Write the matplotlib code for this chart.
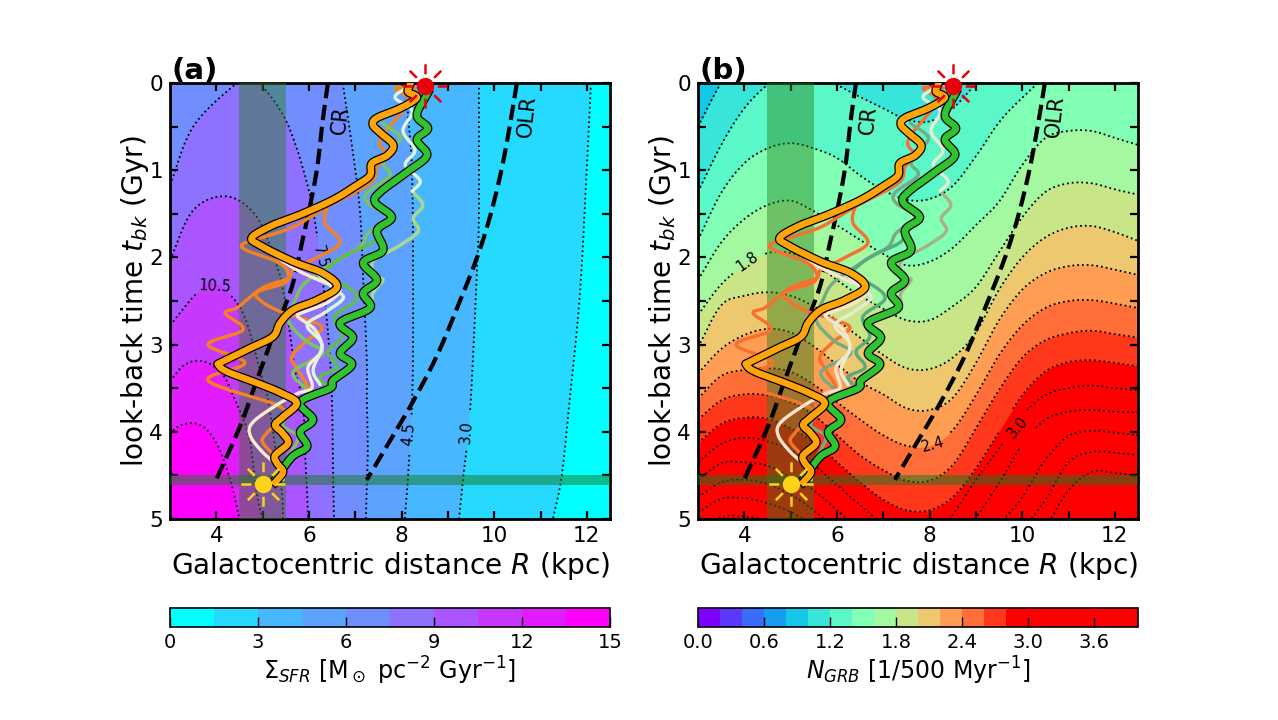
import numpy as np
import matplotlib
matplotlib.use('Agg')
import matplotlib.pyplot as plt
from matplotlib.colors import ListedColormap, BoundaryNorm
from matplotlib.cm import ScalarMappable
from matplotlib.path import Path

# panel (a): star formation contours (R in kpc, t in Gyr)
sfr15_r = [12.09, 12.0, 11.85, 11.64, 11.46, 11.27]
sfr15_t = [0.0, 0.97, 2.43, 3.58, 4.5, 5.0]
sfr30_r = [9.67, 9.67, 9.63, 9.48, 9.33, 9.24]
sfr30_t = [0.0, 1.47, 2.12, 3.76, 4.53, 5.0]
sfr45_r = [8.08, 8.14, 8.23, 8.25, 8.23, 8.14, 8.07]
sfr45_t = [0.0, 0.37, 1.09, 2.61, 3.61, 4.5, 5.0]
sfr60_r = [6.73, 6.95, 7.10, 7.17, 7.25, 7.25, 7.27, 7.25, 7.23]
sfr60_t = [0.0, 0.8, 1.46, 2.22, 3.2, 3.6, 4.2, 4.6, 5.0]
sfr75_r = [3.0, 3.5, 4.4, 4.7, 5.0, 5.53, 5.96, 6.18, 6.35, 6.46, 6.5, 6.52, 6.54]
sfr75_t = [1.17, 0.5, 0.02, -0.04, 0.04, 0.46, 1.15, 1.76, 2.52, 3.2, 3.67, 4.4, 5.0]
sfr90_r = [3.0, 3.5, 4.23, 4.88, 5.31, 5.44, 5.59, 5.7, 5.87, 5.92, 5.96, 5.98]
sfr90_t = [2.03, 1.46, 1.3, 1.54, 2.1, 2.37, 2.87, 3.29, 3.67, 4.29, 4.7, 5.0]
sfr105_r = [3.0, 3.58, 3.97, 4.4, 4.66, 4.94, 5.12, 5.31, 5.42, 5.44]
sfr105_t = [2.78, 2.41, 2.3, 2.49, 2.75, 3.29, 3.64, 4.32, 4.7, 5.0]
sfr120_r = [3.0, 3.32, 3.71, 4.12, 4.4, 4.69, 4.8, 4.9, 5.0]
sfr120_t = [3.42, 3.23, 3.19, 3.33, 3.63, 4.02, 4.4, 4.78, 5.0]
sfr135_r = [3.0, 3.17, 3.48, 3.76, 4.04, 4.3, 4.47, 4.5]
sfr135_t = [4.03, 3.94, 3.9, 3.96, 4.17, 4.55, 4.93, 5.0]

# panel (b): N_GRB contours, t at each R of the common grid
grb_r = [3, 3.5, 4, 4.5, 5, 5.5, 6, 6.5, 7, 7.5, 8, 8.5, 9, 9.5, 10, 10.5, 11, 11.5, 12, 12.5]
grb_10 = [.50, .0, -.32, -.6, -.6, -.6, -.6, -.6, -.6, -.6, -.6, -.6, -.6, -.6, -.6, -.6, -.6, -.6, -.6, -.6]
grb_12 = [1.25, .71, .29, .02, -.15, -.13, .02, .16, .29, .42, .44, .29, .01, -.26, -.49, -.6, -.6, -.6, -.6, -.6]
grb_14 = [1.80, 1.26, .92, .75, .69, .75, .86, 1.06, 1.23, 1.34, 1.33, 1.18, .84, .45, .17, -.06, -.17, -.19, -.11, .03]
grb_16 = [2.26, 1.83, 1.56, 1.40, 1.35, 1.47, 1.63, 1.80, 1.96, 2.09, 2.05, 1.89, 1.63, 1.36, .94, .63, .55, .55, .63, .71]
grb_18 = [2.66, 2.31, 2.09, 1.95, 1.95, 2.06, 2.26, 2.44, 2.59, 2.72, 2.72, 2.56, 2.34, 1.94, 1.54, 1.25, 1.15, 1.15, 1.22, 1.28]
grb_20 = [3.03, 2.55, 2.44, 2.40, 2.44, 2.56, 2.72, 2.92, 3.12, 3.27, 3.28, 3.15, 2.86, 2.37, 2.0, 1.77, 1.66, 1.64, 1.71, 1.81]
grb_22 = [3.33, 3.05, 2.89, 2.82, 2.86, 3.02, 3.23, 3.43, 3.57, 3.73, 3.75, 3.61, 3.21, 2.72, 2.37, 2.18, 2.10, 2.09, 2.14, 2.20]
grb_24 = [3.62, 3.36, 3.29, 3.27, 3.31, 3.46, 3.66, 3.86, 4.04, 4.16, 4.16, 3.98, 3.58, 3.12, 2.78, 2.58, 2.50, 2.49, 2.53, 2.58]
grb_26 = [3.86, 3.64, 3.57, 3.58, 3.66, 3.81, 4.04, 4.27, 4.44, 4.56, 4.56, 4.38, 3.96, 3.52, 3.15, 2.95, 2.87, 2.84, 2.88, 2.92]
grb_28 = [4.13, 3.91, 3.84, 3.85, 3.96, 4.12, 4.35, 4.58, 4.78, 4.90, 4.90, 4.75, 4.42, 4.0, 3.58, 3.31, 3.20, 3.18, 3.21, 3.25]
grb_30 = [4.35, 4.14, 4.07, 4.11, 4.21, 4.38, 4.61, 4.84, 5.07, 5.24, 5.24, 4.95, 4.55, 4.19, 3.81, 3.58, 3.50, 3.47, 3.50, 3.52]
grb_32 = [4.55, 4.36, 4.35, 4.39, 4.52, 4.67, 4.90, 5.13, 5.36, 5.53, 5.58, 5.36, 4.99, 4.59, 4.15, 3.86, 3.77, 3.75, 3.77, 3.78]
grb_34 = [4.75, 4.58, 4.55, 4.60, 4.72, 4.90, 5.13, 5.36, 5.58, 5.76, 5.81, 5.64, 5.41, 5.07, 4.75, 4.32, 4.05, 3.99, 4.01, 4.04]
grb_36 = [4.93, 4.77, 4.76, 4.82, 4.92, 5.10, 5.33, 5.58, 5.81, 5.99, 6.04, 5.93, 5.70, 5.47, 5.13, 4.78, 4.35, 4.23, 4.24, 4.27]
grb_38 = [5.13, 4.98, 4.97, 5.03, 5.18, 5.4, 5.6, 5.8, 6.0, 6.2, 6.2, 6.1, 5.9, 5.7, 5.5, 5.1, 4.67, 4.46, 4.47, 4.51]

# resonance lines
cr_r = [6.41, 6.30, 6.18, 6.02, 5.85, 5.63, 5.22, 4.88, 4.51, 3.97]
cr_t = [0.0, 0.42, 0.96, 1.42, 1.83, 2.34, 2.91, 3.4, 3.94, 4.58]
olr_r = [10.49, 10.30, 10.13, 9.9, 9.63, 9.26, 8.77, 8.25, 7.82, 7.25]
olr_t = [0.0, 0.6, 1.06, 1.55, 2.0, 2.5, 3.12, 3.65, 4.04, 4.55]

# orbits
main_orange_r = [8.18, 8.14, 8.33, 7.97, 7.47, 7.38, 7.54, 7.82, 7.69, 7.36, 7.32, 7.04, 6.52, 5.81, 5.22, 4.77, 4.94,
                 5.66, 6.30, 6.61, 6.17, 5.66, 5.38, 5.22, 4.73, 4.12, 4.04, 4.23, 4.88, 5.38, 5.74, 5.44, 5.27, 5.42,
                 5.55, 5.27, 5.31, 5.44, 5.27]
main_orange_t = [.02, .10, .17, .29, .40, .48, .57, .71, .83, .92, 1.06, 1.17, 1.34, 1.51, 1.63, 1.77, 1.86,
                 2.05, 2.18, 2.34, 2.49, 2.60, 2.75, 2.91, 3.04, 3.20, 3.23, 3.31, 3.44, 3.55, 3.67, 3.83, 3.92, 4.01,
                 4.13, 4.27, 4.36, 4.46, 4.58]
main_green_r = [8.57, 8.33, 8.57, 8.33, 8.55, 8.12, 7.54, 7.43, 7.79, 7.47, 7.60, 7.17, 7.47, 7.17, 7.32, 6.67, 6.95,
                6.67, 6.93, 6.52, 6.46, 5.81, 6.09, 5.81, 5.96, 5.63, 5.27]
main_green_t = [.11, .37, .52, .65, .83, 1.02, 1.25, 1.37, 1.54, 1.69, 1.92, 2.06, 2.26, 2.41, 2.58, 2.75, 2.92,
                3.10, 3.23, 3.41, 3.50, 3.66, 3.86, 4.0, 4.17, 4.29, 4.55]
orange1_r = [8.29, 7.86, 8.14, 7.54, 7.69, 7.47, 7.32, 6.39, 5.66, 4.94, 4.56, 4.66, 5.31, 5.55, 5.48, 4.88, 4.99,
             5.42, 5.98, 6.28, 5.92, 5.63, 5.76, 5.98, 5.96, 5.48, 5.05, 5.01, 5.27, 5.38, 5.2]
orange1_t = [.06, .06, .22, .65, .83, .96, 1.15, 1.42, 1.65, 1.78, 1.85, 1.92, 2.05, 2.17, 2.29, 2.40, 2.51,
             2.63, 2.72, 2.81, 2.97, 3.14, 3.29, 3.49, 3.64, 3.81, 4.04, 4.13, 4.29, 4.44, 4.58]
orange2_r = [6.52, 6.39, 6.35, 6.67, 6.18, 5.66, 5.55, 4.99, 4.47, 4.19, 4.58, 3.82, 4.62, 3.82, 5.2, 5.48]
orange2_t = [1.34, 1.43, 1.61, 1.83, 2.0, 2.14, 2.24, 2.35, 2.57, 2.64, 2.83, 3.0, 3.21, 3.41, 3.67, 3.75]
cream_r = [4.77, 5.66, 6.30, 6.67, 6.39, 5.87, 5.76, 6.13, 6.28, 5.98, 6.07, 5.76, 5.31, 4.79, 4.73, 5.01, 5.44, 5.44]
cream_t = [1.80, 2.12, 2.28, 2.37, 2.52, 2.63, 2.68, 2.83, 3.06, 3.26, 3.49, 3.56, 3.69, 3.89, 4.04, 4.24, 4.44, 4.55]
pale_r = [8.08, 7.86, 8.23, 8.03, 8.29, 8.08, 8.40, 8.23]
pale_t = [.06, .17, .32, .55, .77, .94, 1.12, 1.24]
light_r = [8.23, 8.46, 8.25, 8.36, 7.97, 7.38, 7.47, 7.60, 7.38, 7.38]
light_t = [1.24, 1.40, 1.55, 1.70, 1.86, 2.05, 2.22, 2.26, 2.41, 2.52]
mid_r = [7.58, 7.97, 7.79, 7.60, 7.75, 7.25, 7.28, 7.69, 7.28, 7.10, 6.56, 5.92, 5.70, 5.55, 5.92, 6.30, 5.66, 5.92,
         6.02, 5.44, 5.76, 5.51, 5.20]
mid_t = [.46, .62, .77, .92, 1.06, 1.26, 1.38, 1.54, 1.72, 1.88, 2.05, 2.29, 2.49, 2.72, 2.95, 3.10, 3.31, 3.50,
         3.58, 3.90, 4.06, 4.32, 4.58]
dark_r = [7.47, 7.36, 6.67, 6.24, 6.67, 7.04, 6.56, 6.71, 6.41, 6.61, 6.24, 6.41]
dark_t = [1.69, 1.83, 2.01, 2.24, 2.29, 2.47, 2.68, 2.91, 3.08, 3.26, 3.37, 3.49]
white_r = [6.20, 6.56, 6.74, 6.35, 5.96, 6.28, 6.09, 6.24]
white_t = [2.20, 2.37, 2.47, 2.63, 2.78, 3.0, 3.29, 3.46]

sfr_ticks = [0, 3, 6, 9, 12, 15]
grb_ticks = [0.0, 0.6, 1.2, 1.8, 2.4, 3.0, 3.6]
# positions on the cool map, the low bins of the picture sit a little further along than even steps
sfr_shades = [0.0, 0.15, 0.28, 0.36, 0.444, 0.556, 0.667, 0.778, 0.889, 1.0]


def smooth(x, y, n=10):
    # catmull-rom through the read points, only so the lines do not look angular
    p = np.column_stack([x, y]).astype(float)
    p = np.vstack([2 * p[0] - p[1], p, 2 * p[-1] - p[-2]])
    s = np.linspace(0, 1, n, endpoint=False)[:, None]
    out = []
    for i in range(1, len(p) - 2):
        a, b, c, d = p[i - 1:i + 3]
        out.append(0.5 * (2 * b + (c - a) * s + (2 * a - 5 * b + 4 * c - d) * s ** 2 + (3 * b - a - 3 * c + d) * s ** 3))
    out.append(p[-2:-1])
    out = np.vstack(out)
    return out[:, 0], out[:, 1]


def dotted(ax, r, t, labels):
    # dotted contour, left open where a level label sits
    r = np.array(r)
    t = np.array(t)
    for lab in labels:
        gap = np.hypot((r - lab[1]) * 46.3, (t - lab[2]) * 87.2) < 18
        t = np.where(gap, np.nan, t)
    ax.plot(r, t, color='k', lw=1.3, ls=':', zorder=3)


def sun_marker():
    verts, codes = [], []
    for a in np.arange(8) * np.pi / 4:
        verts += [(0.55 * np.cos(a), 0.55 * np.sin(a)), (np.cos(a), np.sin(a))]
        codes += [Path.MOVETO, Path.LINETO]
    return Path(verts, codes)


def common(ax, letter):
    ax.set_xlim(3, 12.5)
    ax.set_ylim(5, 0)
    ax.set_xticks(np.arange(4, 13))
    ax.set_xticklabels(['4', '', '6', '', '8', '', '10', '', '12'])
    ax.set_yticks(np.arange(0, 5.5, 0.5))
    ax.set_yticklabels(['0', '', '1', '', '2', '', '3', '', '4', '', '5'])
    ax.tick_params(direction='in', top=True, right=True, length=6, width=1.6, labelsize=15.5, pad=5)
    for sp in ax.spines.values():
        sp.set_linewidth(2)
    ax.set_xlabel('Galactocentric distance $R$ (kpc)', fontsize=20.2, labelpad=3)
    ax.set_ylabel('look-back time $t_{bk}$ (Gyr)', fontsize=20.2, labelpad=-1)
    ax.text(0.003, 0.996, letter, transform=ax.transAxes, fontsize=21, fontweight='bold', va='bottom')

    ax.axvspan(4.5, 5.5, color='#28821e', alpha=0.45, lw=0, zorder=4)
    ax.axhspan(4.5, 4.61, color='#157a1e', alpha=0.5, lw=0, zorder=4)
    ax.plot(*smooth(cr_r, cr_t), color='k', lw=3, ls='--', zorder=5)
    ax.plot(*smooth(olr_r, olr_t), color='k', lw=3, ls='--', zorder=5)
    ax.text(6.67, 0.42, 'CR', fontsize=15, rotation=84, rotation_mode='anchor', ha='center', va='center', zorder=6)
    ax.text(10.71, 0.38, 'OLR', fontsize=15, rotation=84, rotation_mode='anchor', ha='center', va='center', zorder=6)


def tracks(ax, cols):
    thin = [(orange1_r, orange1_t, cols[0]), (orange2_r, orange2_t, cols[0]), (light_r, light_t, cols[1]),
            (pale_r, pale_t, cols[2]), (mid_r, mid_t, cols[3]), (dark_r, dark_t, cols[4]),
            (cream_r, cream_t, cols[5]), (white_r, white_t, cols[2])]
    for r, t, c in thin:
        ax.plot(*smooth(r, t), color=c, lw=2.4, zorder=6, solid_capstyle='round')
    ax.plot(*smooth(main_green_r, main_green_t), color='k', lw=6.4, zorder=7)
    ax.plot(*smooth(main_green_r, main_green_t), color='#2fc42f', lw=4.6, zorder=7)
    ax.plot(*smooth(main_orange_r, main_orange_t), color='k', lw=6.4, zorder=8)
    ax.plot(*smooth(main_orange_r, main_orange_t), color='#ffa50a', lw=4.6, zorder=8)
    ray = sun_marker()
    ax.plot(8.5, 0.03, marker=ray, ms=32, mfc='none', mec='#e8000b', mew=1.8, clip_on=False, zorder=9)
    ax.plot(8.5, 0.03, 'o', ms=11.5, color='#e8000b', clip_on=False, zorder=9)
    ax.plot(5.0, 4.6, marker=ray, ms=32, mfc='none', mec='#ffd21a', mew=1.8, zorder=9)
    ax.plot(5.0, 4.6, 'o', ms=11.5, color='#ffd21a', zorder=9)


fig = plt.figure(figsize=(12.78, 7.2), dpi=100)
ax1 = fig.add_axes([170 / 1278, 1 - 519 / 720, 440 / 1278, 436 / 720])
ax2 = fig.add_axes([698 / 1278, 1 - 519 / 720, 440 / 1278, 436 / 720])

# panel a
cool_cols = [plt.cm.cool(v) for v in sfr_shades]
ax1.set_facecolor(cool_cols[0])
sfr_curves = [(sfr15_r, sfr15_t), (sfr30_r, sfr30_t), (sfr45_r, sfr45_t), (sfr60_r, sfr60_t), (sfr75_r, sfr75_t),
              (sfr90_r, sfr90_t), (sfr105_r, sfr105_t), (sfr120_r, sfr120_t), (sfr135_r, sfr135_t)]
sfr_labels = [('10.5', 3.97, 2.33, -3), ('7.5', 6.24, 2.0, -75), ('4.5', 8.16, 4.03, 85), ('3.0', 9.41, 4.0, 85)]
for i, (r, t) in enumerate(sfr_curves):
    rs, ts = smooth(r, t)
    ax1.fill(np.r_[3, rs, 3], np.r_[-0.2, ts, 5], color=cool_cols[i + 1], lw=0, zorder=1)
for r, t in sfr_curves:
    dotted(ax1, *smooth(r, t), sfr_labels)
for s, r, t, rot in sfr_labels:
    ax1.text(r, t, s, fontsize=10.5, rotation=rot, ha='center', va='center', zorder=5)
common(ax1, '(a)')
tracks(ax1, ['#f58220', '#a9d98c', '#dff5d8', '#7cc55a', '#62bd45', '#ffe8d2'])

# panel b
rain_cols = [plt.cm.rainbow(min(i / 14, 1.0)) for i in range(20)]
ax2.set_facecolor(rain_cols[4])
grb_curves = [grb_10, grb_12, grb_14, grb_16, grb_18, grb_20, grb_22, grb_24, grb_26, grb_28, grb_30, grb_32, grb_34,
              grb_36, grb_38]
grb_labels = [('1.8', 4.06, 2.05, 35), ('2.4', 8.08, 4.15, 15), ('3.0', 9.91, 3.95, 50)]
for i, t in enumerate(grb_curves):
    rs, ts = smooth(grb_r, t)
    ax2.fill_between(rs, ts, 7, color=rain_cols[i + 5], lw=0, zorder=1)
for t in grb_curves:
    dotted(ax2, *smooth(grb_r, t), grb_labels)
for s, r, t, rot in grb_labels:
    ax2.text(r, t, s, fontsize=10.5, rotation=rot, ha='center', va='center', zorder=5)
common(ax2, '(b)')
tracks(ax2, ['#f8702e', '#a8b088', '#e6ecd0', '#7aaa82', '#58aa80', '#ffe2cc'])

# colour bars
cax1 = fig.add_axes([170 / 1278, 1 - 627 / 720, 440 / 1278, 19 / 720])
cax2 = fig.add_axes([698 / 1278, 1 - 627 / 720, 440 / 1278, 19 / 720])
sm1 = ScalarMappable(BoundaryNorm(np.linspace(0, 15, 11), 10), ListedColormap(cool_cols))
sm2 = ScalarMappable(BoundaryNorm(np.linspace(0, 4, 21), 20), ListedColormap(rain_cols))
cb1 = fig.colorbar(sm1, cax=cax1, orientation='horizontal', ticks=sfr_ticks, spacing='proportional')
cb2 = fig.colorbar(sm2, cax=cax2, orientation='horizontal', ticks=grb_ticks, spacing='proportional')
cb2.ax.set_xticklabels(['%.1f' % v for v in grb_ticks])
cb1.set_label(r'$\Sigma_{SFR}$ [M$_\odot$ pc$^{-2}$ Gyr$^{-1}$]', fontsize=17.2, labelpad=2)
cb2.set_label(r'$N_{GRB}$ [1/500 Myr$^{-1}$]', fontsize=17, labelpad=2)
for cb in (cb1, cb2):
    cb.ax.tick_params(direction='in', length=7, width=1, labelsize=14, pad=4)
    cb.ax.minorticks_off()
    cb.outline.set_linewidth(1.2)

fig.savefig('out.png', dpi=100)
